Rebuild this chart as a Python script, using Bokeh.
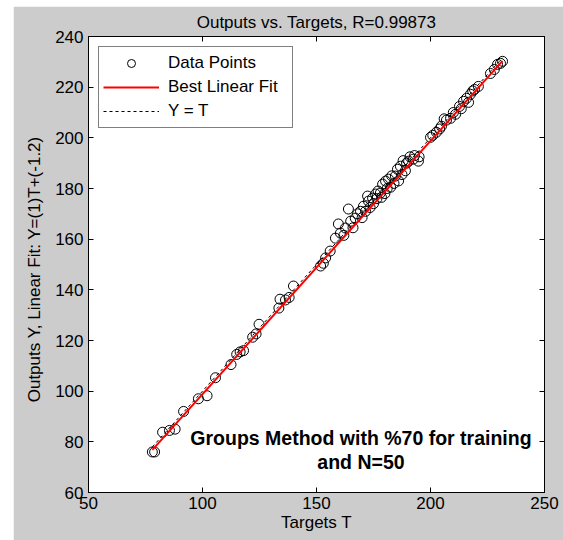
from bokeh.plotting import figure
from bokeh.models import LinearAxis, Legend, LegendItem, Label, FixedTicker
from bokeh.embed import file_html
from bokeh.resources import INLINE

# ---- data ----
targets = [78, 79, 82.5, 85.5, 88, 91.7, 98.2, 102, 105.7, 112.5, 115, 116.5, 118,
           122, 123.5, 124.8, 133.5, 134, 136.4, 138, 139.9, 151.8, 153, 154, 156,
           158.3, 159.6, 160.5, 162, 162.7, 164, 165, 166, 167, 168, 169.3, 170,
           170.6, 171.5, 172.4, 172.8, 173.5, 174.6, 175, 175.9, 176.5, 177, 178,
           178.5, 179, 180, 180.3, 181, 181.6, 182.5, 183, 184, 184.6, 185.5, 186,
           186.8, 187.5, 188, 189, 189.5, 190.4, 191, 192.5, 193, 194.7, 195, 200,
           201, 202.6, 204, 204.8, 206, 207, 208.8, 210, 211, 212.7, 213.5, 214.5,
           215.8, 216.7, 217.5, 218.5, 219.3, 221, 226.3, 228, 229.4, 230.7, 231.6]
outputs = [76, 76, 83.8, 84.5, 85, 92, 97, 98.2, 105.3, 110.5, 114.5, 115.5, 116,
           121.3, 122.6, 126.4, 132.8, 136.3, 136, 137, 141.5, 149.4, 150.5, 152.6, 155.3,
           160.4, 166, 162.4, 161.5, 164.4, 171.9, 167.1, 164.5, 168.3, 170, 171, 168.5,
           173, 171, 177, 175, 172.5, 176.2, 174, 177.8, 176, 179, 178.2,
           176.5, 181.7, 178, 182.9, 180, 183.7, 180.5, 185, 182, 184.9, 187.6, 183,
           188.8, 185.5, 191, 187, 190, 190.8, 192.5, 191.6, 193, 190.8, 192.5, 200.2,
           201, 202.2, 203.5, 204.6, 207.5, 207, 207.7, 210, 209.3, 212.4, 211.5, 214.4,
           215.6, 214, 217.2, 218.5, 219.1, 220.3, 225.4, 227, 229, 229.4, 230.2]
fit_slope = 1.0
fit_intercept = -1.2
x_ticks = [50, 100, 150, 200, 250]
y_ticks = [60, 80, 100, 120, 140, 160, 180, 200, 220, 240]
title_text = "Outputs vs. Targets, R=0.99873"
x_label = "Targets T"
y_label = "Outputs Y,  Linear Fit:  Y=(1)T+(-1.2)"
note_lines = ["Groups Method with %70 for training", "and N=50"]

FONT = "Liberation Sans"

p = figure(width=550, height=534, x_range=(50, 250), y_range=(60, 240),
           output_backend="svg", toolbar_location=None, title=title_text,
           min_border_left=75, min_border_right=19, min_border_top=29,
           min_border_bottom=48)
p.margin = (6, 0, 0, 13)
p.border_fill_color = "#cccccc"
p.background_fill_color = "white"
p.outline_line_color = "black"
p.outline_line_width = 1
p.grid.visible = False

p.title.align = "center"
p.title.text_font = FONT
p.title.text_font_size = "17px"
p.title.text_font_style = "normal"
p.title.text_color = "black"
p.title.standoff = 9

for ax, ticks in ((p.xaxis[0], x_ticks), (p.yaxis[0], y_ticks)):
    ax.ticker = FixedTicker(ticks=ticks)
    ax.major_tick_in = 5
    ax.major_tick_out = 0
    ax.minor_tick_line_color = None
    ax.axis_line_color = "black"
    ax.major_tick_line_color = "black"
    ax.major_label_text_font = FONT
    ax.major_label_text_font_size = "17px"
    ax.major_label_text_color = "black"
    ax.axis_label_text_font = FONT
    ax.axis_label_text_font_size = "17px"
    ax.axis_label_text_font_style = "normal"
    ax.axis_label_text_color = "black"

p.xaxis[0].axis_label = x_label
p.xaxis[0].major_label_standoff = 4
p.xaxis[0].axis_label_standoff = 1
p.yaxis[0].axis_label = y_label
p.yaxis[0].major_label_standoff = 5
p.yaxis[0].axis_label_standoff = 8

# mirrored tick marks on the top and right edges (no labels)
for loc, ticks in (("above", x_ticks), ("right", y_ticks)):
    ax = LinearAxis(ticker=FixedTicker(ticks=[], minor_ticks=ticks),
                    major_tick_line_color=None, minor_tick_in=5, minor_tick_out=0,
                    minor_tick_line_color="black", major_label_standoff=0,
                    axis_line_color="black")
    p.add_layout(ax, loc)

sc = p.scatter(targets, outputs, marker="circle", size=10, fill_color=None,
               line_color="black", line_width=1)
tmin, tmax = min(targets), max(targets)
eq = p.line([tmin, tmax], [tmin, tmax], line_color="black", line_dash="3 3", line_width=1)
fit = p.line([tmin, tmax], [fit_slope * tmin + fit_intercept, fit_slope * tmax + fit_intercept],
             line_color="red", line_width=2)

legend = Legend(items=[LegendItem(label="Data Points", renderers=[sc]),
                       LegendItem(label="Best Linear Fit", renderers=[fit]),
                       LegendItem(label="Y = T", renderers=[eq])],
                location="top_left", margin=10, padding=4, spacing=0,
                label_height=24, glyph_width=56, glyph_height=20, label_standoff=9,
                label_width=120, border_line_color="black", border_line_width=1,
                background_fill_color="white", background_fill_alpha=1,
                label_text_font=FONT, label_text_font_size="17px",
                label_text_color="black")
p.add_layout(legend)

p.add_layout(Label(x=169.5, y=81.7, text=note_lines[0], text_align="center",
                   text_baseline="middle", text_font=FONT, text_font_size="19.5px",
                   text_font_style="bold", text_color="black"))
p.add_layout(Label(x=169.5, y=72.2, text=note_lines[1], text_align="center",
                   text_baseline="middle", text_font=FONT, text_font_size="19.5px",
                   text_font_style="bold", text_color="black"))

open("out.html", "w").write(file_html(p, INLINE))
